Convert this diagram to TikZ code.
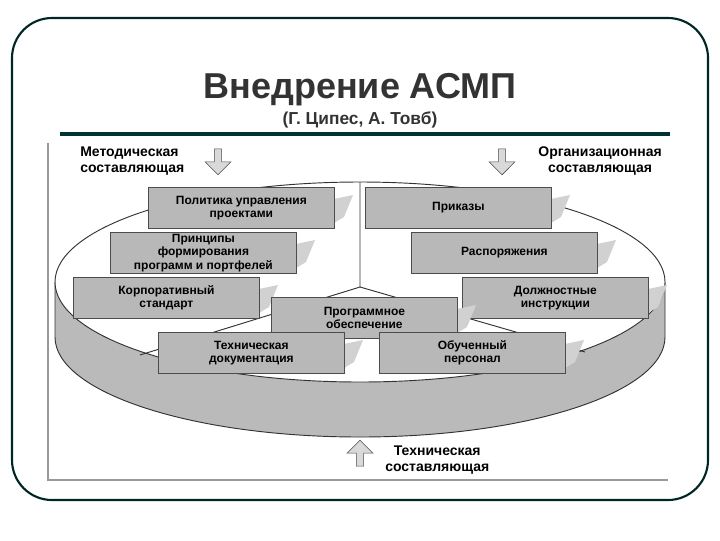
\documentclass[tikz,border=0pt]{standalone}
\usepackage{fontspec}
\setmainfont{Liberation Sans}
\usetikzlibrary{shapes.arrows}
\begin{document}
\begin{tikzpicture}[x=0.75pt,y=-0.75pt,
  bx/.style={draw=black!70,fill=black!28,line width=0.6pt,font=\bfseries\fontsize{9}{10}\selectfont,align=center,anchor=north west,inner sep=0pt},
  shd/.style={fill=black!18},
  lbl/.style={font=\bfseries\fontsize{10.5}{11.5}\selectfont,inner sep=0pt},
  harrow/.style={single arrow,draw=black!70,fill=black!15,minimum height=26*0.75pt,minimum width=26*0.75pt,single arrow head extend=3pt,inner sep=1pt}]
\useasboundingbox (0,0) rectangle (720,540);
\fill[white] (0,0) rectangle (720,540);
\draw[line width=1.6pt,color=black!70!teal,rounded corners=30pt] (12,18) rectangle (708,500);
\node[font=\bfseries\fontsize{27}{29}\selectfont,text=black!80] (title) at (360,90) {Внедрение АСМП};
\node[font=\bfseries\fontsize{13}{15}\selectfont,text=black!80] (sub) at (360,120) {(Г. Ципес, А. Товб)};
\draw[line width=2.5pt,color=black!60!teal] (60,134) -- (670,134);
\draw[black!40,line width=0.8pt] (48,143) -- (48,480) -- (668,480);
% disk
\fill[black!27] (55,282) -- (55,337) arc[start angle=180,end angle=0,x radius=305,y radius=100] -- (665,282) arc[start angle=0,end angle=180,x radius=305,y radius=100] -- cycle;
\draw[black!80,line width=0.7pt] (55,282) -- (55,337) arc[start angle=180,end angle=0,x radius=305,y radius=100] -- (665,282);
\draw[black!80,line width=0.7pt,fill=white] (360,282) ellipse[x radius=305,y radius=100];
\coordinate (c) at (360,287);
\coordinate (top) at (360,182);
\coordinate (ll) at (140,355);
\coordinate (rr) at (585,352);
\draw[black!80,line width=0.7pt] (top) -- (c) (ll) -- (c) -- (rr);
% boxes with shadows
\foreach \x/\y/\n/\t in {148/187/p1/{Политика управления\\проектами},365/187/p2/{Приказы},110/232/p3/{Принципы\\формирования\\программ и портфелей},411/232/p4/{Распоряжения},73/277/p5/{Корпоративный\\стандарт},462/277/p6/{Должностные\\инструкции},271/297/p7/{Программное\\обеспечение},158/332/p8/{Техническая\\документация},379/332/p9/{Обученный\\персонал}}{
  \fill[shd] (\x+186,\y+12) -- (\x+205,\y+8) -- (\x+196,\y+30) -- (\x+186,\y+36) -- cycle;
  \node[bx,minimum width=186*0.75pt,minimum height=41*0.75pt] (\n) at (\x,\y) {\t};
}
% component labels
\node[harrow,shape border rotate=270] (a1) at (218,160) {};
\node[harrow,shape border rotate=270] (a2) at (502,160) {};
\node[harrow,shape border rotate=90] (a3) at (360,455) {};
\node[lbl,align=left,anchor=west] (m) at (80,161) {Методическая\\составляющая};
\node[lbl,align=center,anchor=east] (o) at (662,161) {Организационная\\составляющая};
\node[lbl,align=center,anchor=west] (t) at (385,460) {Техническая\\составляющая};
\end{tikzpicture}
\end{document}
